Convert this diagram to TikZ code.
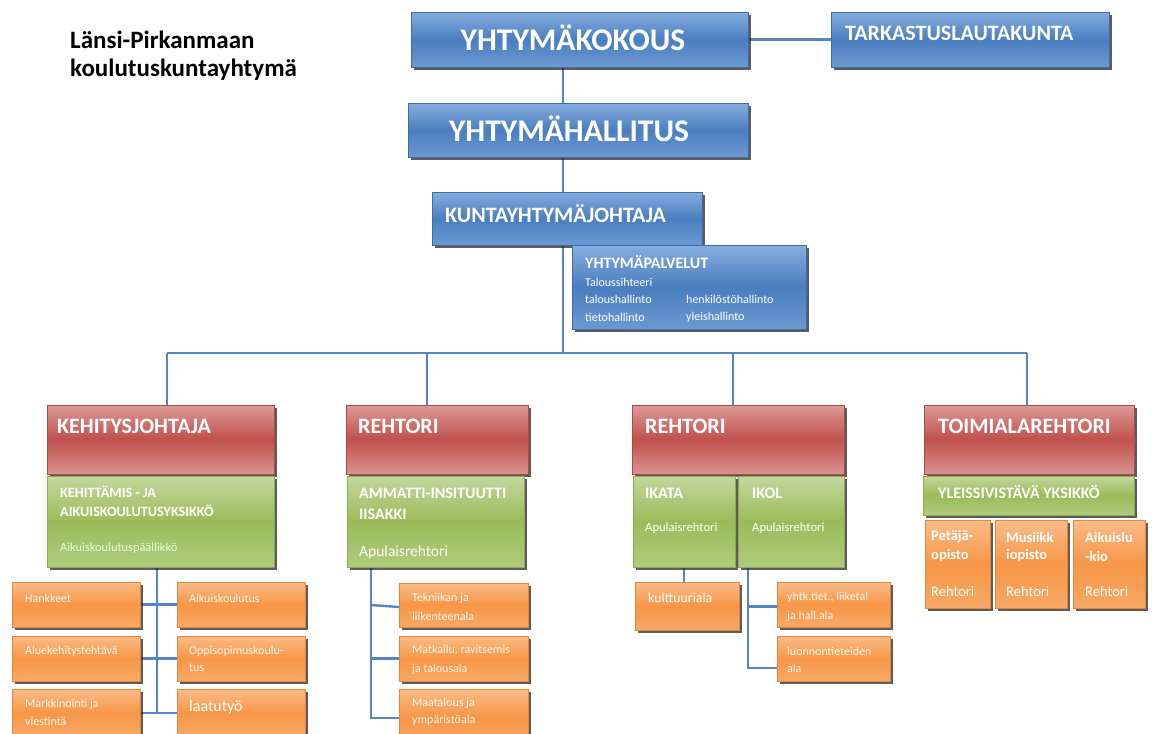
\documentclass[tikz,border=0pt]{standalone}
\usepackage{fontspec}
\setmainfont{Carlito}
\usetikzlibrary{shadows}
\pgfdeclarelayer{bg}
\pgfdeclarelayer{paper}
\pgfsetlayers{paper,bg,main}
\definecolor{blueTop}{HTML}{86AEDE}
\definecolor{blueMid}{HTML}{4A7EBF}
\definecolor{blueBot}{HTML}{6C99D2}
\definecolor{blueEdge}{HTML}{3F6CA6}
\definecolor{redTop}{HTML}{DC9A98}
\definecolor{redMid}{HTML}{C0504D}
\definecolor{redBot}{HTML}{DA9290}
\definecolor{redEdge}{HTML}{B04845}
\definecolor{greenTop}{HTML}{C4D89E}
\definecolor{greenMid}{HTML}{9BBB59}
\definecolor{greenBot}{HTML}{B0CB7C}
\definecolor{greenEdge}{HTML}{8CAA50}
\definecolor{orTop}{HTML}{FABC88}
\definecolor{orMid}{HTML}{F79646}
\definecolor{orBot}{HTML}{F8A866}
\definecolor{orEdge}{HTML}{E8873A}
\definecolor{lineBlue}{HTML}{5585C5}
\tikzset{
  box/.style={draw, line width=0.6pt, inner sep=0pt, outer sep=0pt, anchor=north west,
    drop shadow={shadow xshift=3pt, shadow yshift=-3pt, fill=black!85, opacity=0.75}},
  bluebox/.style={box, draw=blueEdge, top color=blueTop, bottom color=blueBot, middle color=blueMid},
  redbox/.style={box, draw=redEdge, top color=redTop, bottom color=redBot, middle color=redMid},
  greenbox/.style={box, draw=greenEdge, top color=greenTop, bottom color=greenBot, middle color=greenMid},
  orbox/.style={box, draw=orEdge, top color=orTop, bottom color=orBot, middle color=orMid},
  conn/.style={draw=lineBlue, line width=2.4pt},
  lbl/.style={anchor=west, inner sep=0pt, text=white},
  ttl/.style={anchor=west, inner sep=0pt, text=black, font=\bfseries\fontsize{25}{28}\selectfont},
  big/.style={lbl, font=\bfseries\fontsize{31.5}{34}\selectfont},
  head/.style={lbl, font=\bfseries\fontsize{22}{25}\selectfont},
  sub/.style={lbl, font=\bfseries\fontsize{16}{18}\selectfont},
  small/.style={lbl, text=white!92!orange, font=\fontsize{12}{14}\selectfont},
  mid/.style={lbl, font=\fontsize{12.6}{14}\selectfont},
  pv/.style={lbl, font=\fontsize{12}{14}\selectfont},
  c4b/.style={lbl, font=\bfseries\fontsize{14.5}{16}\selectfont},
  c4/.style={lbl, font=\fontsize{14.5}{16}\selectfont},
}
\newcommand\bx[6]{\node[#2, minimum width={(#5-#3)*1pt}, minimum height={(#6-#4)*1pt}] (#1) at (#3,#4) {};}
\begin{document}
\begin{tikzpicture}[x=1pt,y=-1pt]
\useasboundingbox (0,0) rectangle (1152,734);
\clip (0,0) rectangle (1152,734);
\begin{pgfonlayer}{paper}
\fill[white] (0,0) rectangle (1152,734);
\end{pgfonlayer}

% title
\node[ttl] (title1) at (70,40) {Länsi-Pirkanmaan};
\node[ttl] (title2) at (70,70) {koulutuskuntayhtymä};

% top level
\bx{kok}{bluebox}{411}{12}{748}{67}
\node[big, anchor=center] (tkok) at (573,38) {YHTYMÄKOKOUS};
\bx{tark}{bluebox}{831}{12}{1109}{67}
\node[head] (ttark) at (845,33) {TARKASTUSLAUTAKUNTA};
\bx{hal}{bluebox}{408}{103}{748}{157}
\node[big, anchor=center] (thal) at (569,129) {YHTYMÄHALLITUS};
\bx{kun}{bluebox}{432}{192}{702}{245}
\node[head] (tkun) at (445,214) {KUNTAYHTYMÄJOHTAJA};
\bx{pal}{bluebox}{572}{245}{806}{329}
\node[lbl, font=\bfseries\fontsize{16}{18}\selectfont] (tpal) at (585,262) {YHTYMÄPALVELUT};
\node[pv] (p1) at (585,282) {Taloussihteeri};
\node[pv] (p2) at (585,299) {taloushallinto};
\node[pv] (p3) at (686,299) {henkilöstöhallinto};
\node[pv] (p4) at (585,317) {tietohallinto};
\node[pv] (p5) at (686,317) {yleishallinto};

% red boxes
\bx{r1}{redbox}{47}{405}{274}{474}
\node[head] (tr1) at (57,426) {KEHITYSJOHTAJA};
\bx{r2}{redbox}{346}{405}{528}{474}
\node[head] (tr2) at (358,426) {REHTORI};
\bx{r3}{redbox}{632}{405}{844}{474}
\node[head] (tr3) at (645,426) {REHTORI};
\bx{r4}{redbox}{924}{405}{1134}{474}
\node[head] (tr4) at (938,426) {TOIMIALAREHTORI};

% green boxes
\bx{g1}{greenbox}{47}{476}{274}{567}
\node[sub, font=\bfseries\fontsize{14.2}{16}\selectfont] (tg1a) at (60,492) {KEHITTÄMIS - JA};
\node[sub, font=\bfseries\fontsize{14.2}{16}\selectfont] (tg1b) at (60,511) {AIKUISKOULUTUSYKSIKKÖ};
\node[lbl, text=white!90!green, font=\fontsize{12.4}{14}\selectfont] (tg1c) at (60,548) {Aikuiskoulutuspäällikkö};
\bx{g2}{greenbox}{347}{476}{524}{567}
\node[sub] (tg2a) at (359,493) {AMMATTI-INSITUUTTI};
\node[sub] (tg2b) at (359,514) {IISAKKI};
\node[lbl, font=\fontsize{15.5}{17}\selectfont] (tg2c) at (359,552) {Apulaisrehtori};
\bx{g3a}{greenbox}{633}{476}{735}{567}
\node[sub] (tg3a) at (645,493) {IKATA};
\node[mid] (tg3b) at (645,528) {Apulaisrehtori};
\bx{g3b}{greenbox}{738}{476}{844}{567}
\node[sub] (tg3c) at (752,493) {IKOL};
\node[mid] (tg3d) at (752,528) {Apulaisrehtori};
\bx{g4}{greenbox}{923}{476}{1134}{515}
\node[sub] (tg4) at (938,492) {YLEISSIVISTÄVÄ YKSIKKÖ};

% orange column 1
\bx{o11}{orbox}{12}{582}{140}{627}
\node[small] (to11) at (25,598) {Hankkeet};
\bx{o12}{orbox}{177}{582}{305}{627}
\node[small] (to12) at (189,598) {Aikuiskoulutus};
\bx{o13}{orbox}{12}{636}{140}{681}
\node[small] (to13) at (25,651) {Aluekehitystehtävä};
\bx{o14}{orbox}{177}{636}{305}{681}
\node[small] (to14a) at (189,651) {Oppisopimuskoulu-};
\node[small] (to14b) at (189,668) {tus};
\bx{o15}{orbox}{12}{689}{140}{737}
\node[small] (to15a) at (25,704) {Markkinointi ja};
\node[small] (to15b) at (25,721) {viestintä};
\bx{o16}{orbox}{177}{689}{305}{737}
\node[lbl, font=\fontsize{16}{18}\selectfont] (to16) at (189,707) {laatutyö};

% orange column 2
\bx{o21}{orbox}{399}{583}{528}{627}
\node[small] (to21a) at (412,598) {Tekniikan ja};
\node[small] (to21b) at (412,616) {liikenteenala};
\bx{o22}{orbox}{399}{636}{528}{681}
\node[small] (to22a) at (412,650) {Matkailu, ravitsemis};
\node[small] (to22b) at (412,669) {ja talousala};
\bx{o23}{orbox}{399}{689}{528}{746}
\node[small] (to23a) at (412,703) {Maatalous ja};
\node[small] (to23b) at (412,720) {ympäristöala};

% orange column 3
\bx{o31}{orbox}{635}{582}{739}{630}
\node[lbl, font=\fontsize{13.8}{16}\selectfont] (to31) at (648,598) {kulttuuriala};
\bx{o32}{orbox}{777}{582}{890}{627}
\node[small] (to32a) at (787,597) {yhtk.tiet., liiketal};
\node[small] (to32b) at (787,616) {ja hall.ala};
\bx{o33}{orbox}{777}{636}{890}{681}
\node[small] (to33a) at (787,651) {luonnontieteiden};
\node[small] (to33b) at (787,668) {ala};

% orange column 4
\bx{o41}{orbox}{925}{520}{990}{608}
\node[c4b] (to41a) at (931,537) {Petäjä-};
\node[c4b] (to41b) at (931,556) {opisto};
\node[c4] (to41c) at (931,592) {Rehtori};
\bx{o42}{orbox}{995}{520}{1067}{608}
\node[c4b] (to42a) at (1006,537) {Musiikk};
\node[c4b] (to42b) at (1006,556) {iopisto};
\node[c4] (to42c) at (1006,592) {Rehtori};
\bx{o43}{orbox}{1073}{520}{1145}{608}
\node[c4b] (to43a) at (1085,537) {Aikuislu};
\node[c4b] (to43b) at (1085,556) {-kio};
\node[c4] (to43c) at (1085,592) {Rehtori};

% connector coordinates
\coordinate (trunk) at (563,353);
\coordinate (b1) at (167,353);
\coordinate (b2) at (427,353);
\coordinate (b3) at (733,353);
\coordinate (b4) at (1027,353);
\coordinate (s1) at (157,713);
\coordinate (s2) at (371,718);
\coordinate (s3) at (748,668);

\begin{pgfonlayer}{bg}
\draw[conn] (kok.east) -- (tark.west);
\draw[conn] (kok.south -| trunk) -- (hal.north -| trunk);
\draw[conn] (hal.south -| trunk) -- (kun.south -| trunk) -- (trunk);
\draw[conn] (b1) -- (b4);
\draw[conn] (b1) -- (b1 |- r1.north);
\draw[conn] (b2) -- (b2 |- r2.north);
\draw[conn] (b3) -- (b3 |- r3.north);
\draw[conn] (b4) -- (b4 |- r4.north);
% column 1
\draw[conn] (g1.south -| s1) -- (s1);
\draw[conn] (o11.east) -- (o12.west);
\draw[conn] (o13.east) -- (o14.west);
\draw[conn] (o15.east) -- (o16.west);
% column 2
\draw[conn] (g2.south -| s2) -- (s2) -- (s2 -| o23.west);
\draw[conn] (s2 |- o21.west) -- ([yshift=-2pt]o21.west);
\draw[conn] (s2 |- o22.west) -- (o22.west);
% column 3
\draw[conn] (g3a.south) -- (g3a.south |- o31.north);
\draw[conn] (g3b.south -| s3) -- (s3) -- (s3 -| o33.west);
\draw[conn] ([yshift=-2pt]s3 |- o32.west) -- ([yshift=-2pt]o32.west);
\end{pgfonlayer}
\end{tikzpicture}
\end{document}
